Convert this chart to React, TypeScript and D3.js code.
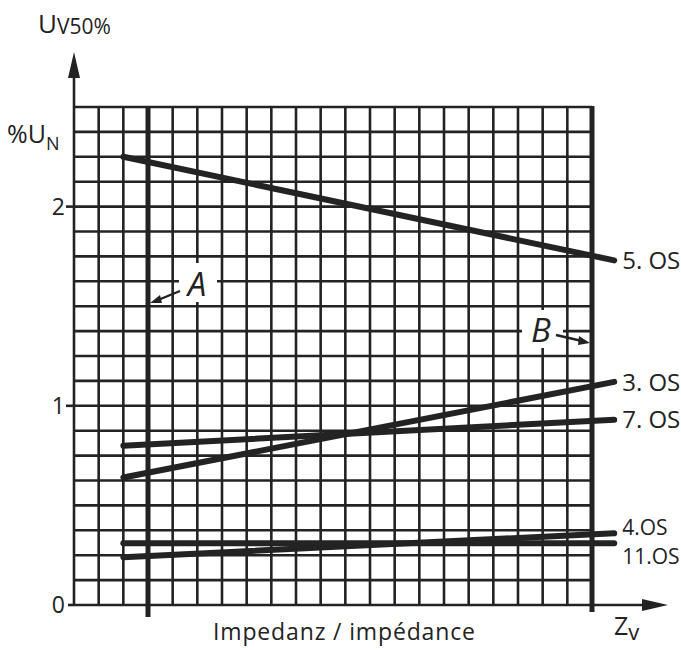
import * as d3 from 'd3'

// grid: 21 columns of impedance, 0..2.5 %UN in eighths
const colCount = 21
const yMax = 2.5
const yTicks = [0, 1, 2]
const markA = 3
const markB = 21

const seriesNames = ['5. OS', '3. OS', '7. OS', '4.OS', '11.OS']
const seriesStart = [2, 2, 2, 2, 2]
const seriesEnd = [21.9, 21.9, 21.9, 21.9, 21.9]
const startValues = [2.25, 0.64, 0.8, 0.24, 0.31]
const endValues = [1.73, 1.12, 0.93, 0.36, 0.31]
const labelShift = [9, 9, 8, 2, 21]

const ink = '#232323'
const font = "'Open Sans', 'DejaVu Sans', sans-serif"

export default function App() {
  const width = 681
  const height = 650
  const left = 74
  const right = 592
  const top = 107
  const bottom = 605

  const x = d3.scaleLinear([0, colCount], [left, right])
  const y = d3.scaleLinear([0, yMax], [bottom, top])
  const cols = d3.range(0, colCount + 1)
  const rows = d3.range(0, yMax * 8 + 1).map((i) => i / 8)
  const line = d3.line<[number, number]>((d) => x(d[0]), (d) => y(d[1]))

  return (
    <svg width={width} height={height} viewBox={`0 0 ${width} ${height}`}
      style={{ display: 'block', position: 'absolute', left: 0, top: 0 }}>
      <rect width={width} height={height} fill="white" />
      <g stroke={ink} strokeWidth={2.6}>
        {cols.map((c) => (
          <line key={'c' + c} x1={x(c)} x2={x(c)} y1={y(yMax)} y2={y(0)} />
        ))}
        {rows.map((r) => (
          <line key={'r' + r} x1={x(0)} x2={x(colCount)} y1={y(r)} y2={y(r)} />
        ))}
        {yTicks.filter((t) => t > 0).map((t) => (
          <line key={'t' + t} x1={x(0) - 8} x2={x(0)} y1={y(t)} y2={y(t)} />
        ))}
        <line x1={x(0) - 6} x2={x(0)} y1={y(0)} y2={y(0)} />
      </g>

      {/* axes with arrows */}
      <g stroke={ink} strokeWidth={2.6}>
        <line x1={x(0)} x2={x(0)} y1={y(yMax)} y2={70} />
        <line x1={x(colCount)} x2={650} y1={y(0)} y2={y(0)} />
      </g>
      <path d={`M${x(0)},52 L${x(0) + 6},78 L${x(0) - 6},78 Z`} fill={ink} />
      <path d={`M668,${y(0)} L642,${y(0) - 6} L642,${y(0) + 6} Z`} fill={ink} />

      {/* limit lines A and B */}
      <g stroke={ink} strokeWidth={5}>
        <line x1={x(markA)} x2={x(markA)} y1={y(yMax) - 1} y2={617} />
        <line x1={x(markB)} x2={x(markB)} y1={y(yMax) - 1} y2={612} />
      </g>

      {/* A / B labels */}
      <rect x={179} y={263} width={38} height={39} fill="white" />
      <text x={197} y={296} fontFamily={font} fontSize={33} fontStyle="italic" fill={ink} textAnchor="middle">A</text>
      <line x1={180} y1={291} x2={158} y2={300} stroke={ink} strokeWidth={2.4} />
      <path d="M150,303 L160,295 L162,303 Z" fill={ink} />
      <rect x={522} y={310} width={41} height={38} fill="white" />
      <text x={541} y={342} fontFamily={font} fontSize={33} fontStyle="italic" fill={ink} textAnchor="middle">B</text>
      <line x1={556} y1={335} x2={582} y2={341} stroke={ink} strokeWidth={2.4} />
      <path d="M590,343 L579,336 L578,345 Z" fill={ink} />

      {/* series */}
      {seriesNames.map((name, i) => (
        <g key={name}>
          <path
            d={line([[seriesStart[i], startValues[i]], [seriesEnd[i], endValues[i]]]) || undefined}
            fill="none" stroke={ink} strokeWidth={6} strokeLinecap="round" />
          <text x={x(seriesEnd[i]) + 8} y={y(endValues[i]) + labelShift[i]}
            fontFamily={font} fontSize={i < 3 ? 24 : 21} fill={ink}>{name}</text>
        </g>
      ))}

      {/* tick labels */}
      {yTicks.map((t) => (
        <text key={'l' + t} x={x(0) - 9} y={y(t) + 8} fontFamily={font} fontSize={23}
          fill={ink} textAnchor="end">{t}</text>
      ))}

      {/* axis titles */}
      <text x={38} y={33} fontFamily={font} fill={ink}>
        <tspan fontSize={26}>U</tspan>
        <tspan fontSize={21} dy={1}>V50%</tspan>
      </text>
      <text x={7} y={143} fontFamily={font} fill={ink}>
        <tspan fontSize={25}>%U</tspan>
        <tspan fontSize={18} dy={7}>N</tspan>
      </text>
      <text x={213} y={640} fontFamily={font} fontSize={23} fill={ink} textLength={262}
        lengthAdjust="spacing">Impedanz / impédance</text>
      <text x={614} y={635} fontFamily={font} fill={ink}>
        <tspan fontSize={25}>Z</tspan>
        <tspan fontSize={22} dy={5}>v</tspan>
      </text>
    </svg>
  )
}
